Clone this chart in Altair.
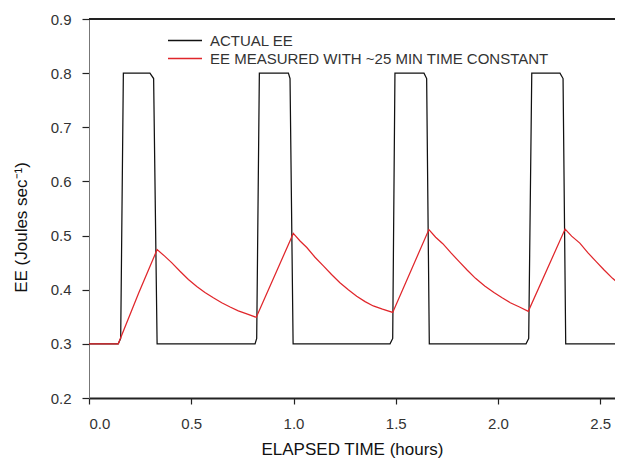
import altair as alt
import pandas as pd

# ACTUAL EE (black step pulses)
actual_t = [0.0, 0.143, 0.155, 0.168, 0.298, 0.316, 0.333,
            0.812, 0.820, 0.833, 0.975, 0.983, 0.998,
            1.472, 1.485, 1.496, 1.638, 1.651, 1.664,
            2.137, 2.150, 2.165, 2.303, 2.318, 2.331, 2.61]
actual_v = [0.30, 0.30, 0.31, 0.80, 0.80, 0.79, 0.30,
            0.30, 0.31, 0.80, 0.80, 0.79, 0.30,
            0.30, 0.31, 0.80, 0.80, 0.79, 0.30,
            0.30, 0.31, 0.80, 0.80, 0.79, 0.30, 0.30]

# EE MEASURED (red, lagged response)
meas_t = [0.0, 0.143, 0.243, 0.333,
          0.37, 0.404, 0.445, 0.486, 0.527, 0.567, 0.608, 0.649, 0.690, 0.730, 0.775, 0.818,
          0.999, 1.032, 1.065, 1.105, 1.146, 1.186, 1.227, 1.268, 1.309, 1.350, 1.390, 1.435, 1.485,
          1.662, 1.695, 1.73, 1.77, 1.81, 1.85, 1.89, 1.935, 1.98, 2.02, 2.06, 2.105, 2.148,
          2.328, 2.36, 2.40, 2.44, 2.48, 2.52, 2.56, 2.61]
meas_v = [0.300, 0.300, 0.394, 0.474,
          0.462, 0.450, 0.434, 0.419, 0.406, 0.395, 0.385, 0.376, 0.368, 0.361, 0.355, 0.349,
          0.504, 0.490, 0.478, 0.460, 0.444, 0.428, 0.413, 0.400, 0.388, 0.378, 0.370, 0.364, 0.358,
          0.511, 0.497, 0.485, 0.468, 0.452, 0.436, 0.421, 0.407, 0.395, 0.385, 0.376, 0.368, 0.360,
          0.512, 0.499, 0.486, 0.468, 0.452, 0.436, 0.421, 0.405]

series_names = ["ACTUAL EE", "EE MEASURED WITH ~25 MIN TIME CONSTANT"]
series_colors = ["#111111", "#e0262b"]

x_ticks = [0.0, 0.5, 1.0, 1.5, 2.0, 2.5]
y_ticks = [0.2, 0.3, 0.4, 0.5, 0.6, 0.7, 0.8, 0.9]

rows = []
for i, (t, v) in enumerate(zip(actual_t, actual_v)):
    rows.append({"series": series_names[0], "t": t, "v": v, "i": i})
for i, (t, v) in enumerate(zip(meas_t, meas_v)):
    rows.append({"series": series_names[1], "t": t, "v": v, "i": i})
df = pd.DataFrame(rows)

FONT = "Liberation Sans"

x_scale = alt.Scale(domain=[0, 2.572], nice=False, zero=False)
y_scale = alt.Scale(domain=[0.2, 0.9], nice=False, zero=False)

lines = alt.Chart(df).mark_line(strokeWidth=1.25, interpolate="linear", clip=True).encode(
    x=alt.X("t:Q", scale=x_scale,
            axis=alt.Axis(title="ELAPSED TIME (hours)", values=x_ticks, format=".1f",
                          grid=False, tickSize=6, labelPadding=12, titlePadding=10,
                          domainColor="#222", domainWidth=2, tickColor="#222",
                          tickWidth=1.2)),
    y=alt.Y("v:Q", scale=y_scale,
            axis=alt.Axis(title="EE (Joules sec\u207b\u00b9)", values=y_ticks, format=".1f",
                          grid=False, tickSize=7, labelPadding=11, titlePadding=20,
                          titleY=208,
                          domainColor="#777", domainWidth=1, tickColor="#222",
                          tickWidth=1.2)),
    color=alt.Color("series:N",
                    scale=alt.Scale(domain=series_names, range=series_colors),
                    legend=alt.Legend(title=None, orient="none", legendX=78, legendY=14,
                                      symbolType="stroke", symbolSize=1156,
                                      symbolStrokeWidth=1.3, labelFontSize=15,
                                      labelColor="#333", labelFont=FONT,
                                      labelOffset=7, padding=0, rowPadding=2,
                                      clipHeight=15, labelLimit=600)),
    detail="series:N",
    order=alt.Order("i:Q"),
)

top_border = alt.Chart(pd.DataFrame({"y": [0.9]})).mark_rule(
    color="#222", strokeWidth=2).encode(y=alt.Y("y:Q", scale=y_scale))

chart = alt.layer(lines, top_border).properties(
    width=526, height=379,
    autosize=alt.AutoSizeParams(type="none"),
    padding={"left": 81, "top": 11, "right": 0, "bottom": 61},
).configure_view(stroke=None).configure_axis(
    labelFont=FONT, titleFont=FONT, labelFontSize=15, titleFontSize=17,
    labelColor="#333", titleColor="#111", titleFontWeight="normal",
)

chart.save("out.html", embed_options={"renderer": "svg", "actions": False})
